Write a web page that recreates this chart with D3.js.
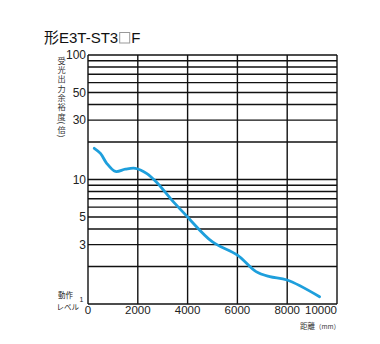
<!DOCTYPE html>
<html>
<head>
<meta charset="utf-8">
<script src="https://cdn.jsdelivr.net/npm/d3@7"></script>
<style>
  body { margin: 0; background: #fff; }
  text { font-family: "Liberation Sans", Arial, "Noto Sans CJK JP", sans-serif; }
  .jp { font-family: "Noto Sans CJK JP", sans-serif; }
</style>
</head>
<body>
<svg width="380" height="344"></svg>
<script>
// data
const distance = [250, 500, 750, 1100, 1500, 1900, 2350, 2800, 3350, 4000, 4100, 5000, 6000, 6750, 7300, 8000, 9300];
const margin   = [17.8, 16.2, 13.5, 11.6, 12.1, 12.3, 11.2, 9.3, 6.9, 5.0, 4.75, 3.15, 2.47, 1.82, 1.66, 1.56, 1.145];
const xTicks = [0, 2000, 4000, 6000, 8000, 10000];
const yLabels = [3, 5, 10, 30, 50, 100];

function Start(){
    const svg = d3.select('svg');

    const x = d3.scaleLinear().domain([0, 10000]).range([88, 337]);
    const y = d3.scaleLog().domain([1, 100]).range([304, 55]);

    // title
    const title = svg.append('text')
        .attr('x', 44)
        .attr('y', 43)
        .attr('font-size', 15)
        .attr('fill', '#111');
    title.append('tspan').attr('class', 'jp').text('形');
    title.append('tspan').text('E3T-ST3');
    const tw = title.node().getComputedTextLength();
    svg.append('rect')
        .attr('x', 44 + tw + 1.5)
        .attr('y', 32.5)
        .attr('width', 10)
        .attr('height', 10.5)
        .attr('fill', 'none')
        .attr('stroke', '#999')
        .attr('stroke-width', 1);
    svg.append('text')
        .attr('x', 44 + tw + 13)
        .attr('y', 43)
        .attr('font-size', 15)
        .attr('fill', '#111')
        .text('F');

    // grid
    const grid = svg.append('g')
        .attr('stroke', '#111')
        .attr('stroke-width', 1.4);
    grid.selectAll('line.h')
        .data(y.ticks())
        .join('line')
        .attr('class', 'h')
        .attr('x1', x(0))
        .attr('x2', x(10000))
        .attr('y1', d => y(d))
        .attr('y2', d => y(d));
    grid.selectAll('line.v')
        .data(xTicks)
        .join('line')
        .attr('class', 'v')
        .attr('x1', d => x(d))
        .attr('x2', d => x(d))
        .attr('y1', y(100))
        .attr('y2', y(1));

    // y labels
    svg.selectAll('text.yl')
        .data(yLabels)
        .join('text')
        .attr('class', 'yl')
        .attr('x', 86)
        .attr('y', d => y(d) + 4.3)
        .attr('text-anchor', 'end')
        .attr('font-size', 12)
        .attr('fill', '#222')
        .text(d => d);
    svg.append('text')
        .attr('x', 83.5)
        .attr('y', 302)
        .attr('text-anchor', 'end')
        .attr('font-size', 7)
        .attr('fill', '#222')
        .text('1');
    svg.append('text')
        .attr('class', 'jp')
        .attr('x', 58)
        .attr('y', 297.5)
        .attr('font-size', 7.5)
        .attr('fill', '#222')
        .text('動作');
    svg.append('text')
        .attr('class', 'jp')
        .attr('x', 56.5)
        .attr('y', 310)
        .attr('font-size', 7.5)
        .attr('fill', '#222')
        .text('レベル');

    // x labels
    svg.selectAll('text.xl')
        .data(xTicks)
        .join('text')
        .attr('class', 'xl')
        .attr('x', d => x(d))
        .attr('y', 313.5)
        .attr('text-anchor', d => d === 10000 ? 'end' : 'middle')
        .attr('font-size', 11.5)
        .attr('fill', '#222')
        .text(d => d);

    // axis titles
    svg.append('text')
        .attr('class', 'jp')
        .attr('x', 61.5)
        .attr('y', 56.5)
        .attr('font-size', 8.2)
        .attr('letter-spacing', 1.1)
        .attr('fill', '#333')
        .style('writing-mode', 'vertical-rl')
        .style('text-orientation', 'mixed')
        .text('受光出力余裕度(倍)');
    const xt = svg.append('text')
        .attr('class', 'jp')
        .attr('x', 340)
        .attr('y', 328.5)
        .attr('text-anchor', 'end')
        .attr('font-size', 7.5)
        .attr('fill', '#333');
    xt.append('tspan').text('距離');
    xt.append('tspan').attr('font-size', 6.5).text('（mm）');

    // curve
    const pts = distance.map((d, i) => [d, margin[i]]);
    const line = d3.line()
        .x(d => x(d[0]))
        .y(d => y(d[1]))
        .curve(d3.curveCatmullRom.alpha(0.5));
    svg.append('path')
        .datum(pts)
        .attr('d', line)
        .attr('fill', 'none')
        .attr('stroke', '#1e9fdc')
        .attr('stroke-width', 2.8)
        .attr('stroke-linecap', 'round');
}
Start();
</script>
</body>
</html>
